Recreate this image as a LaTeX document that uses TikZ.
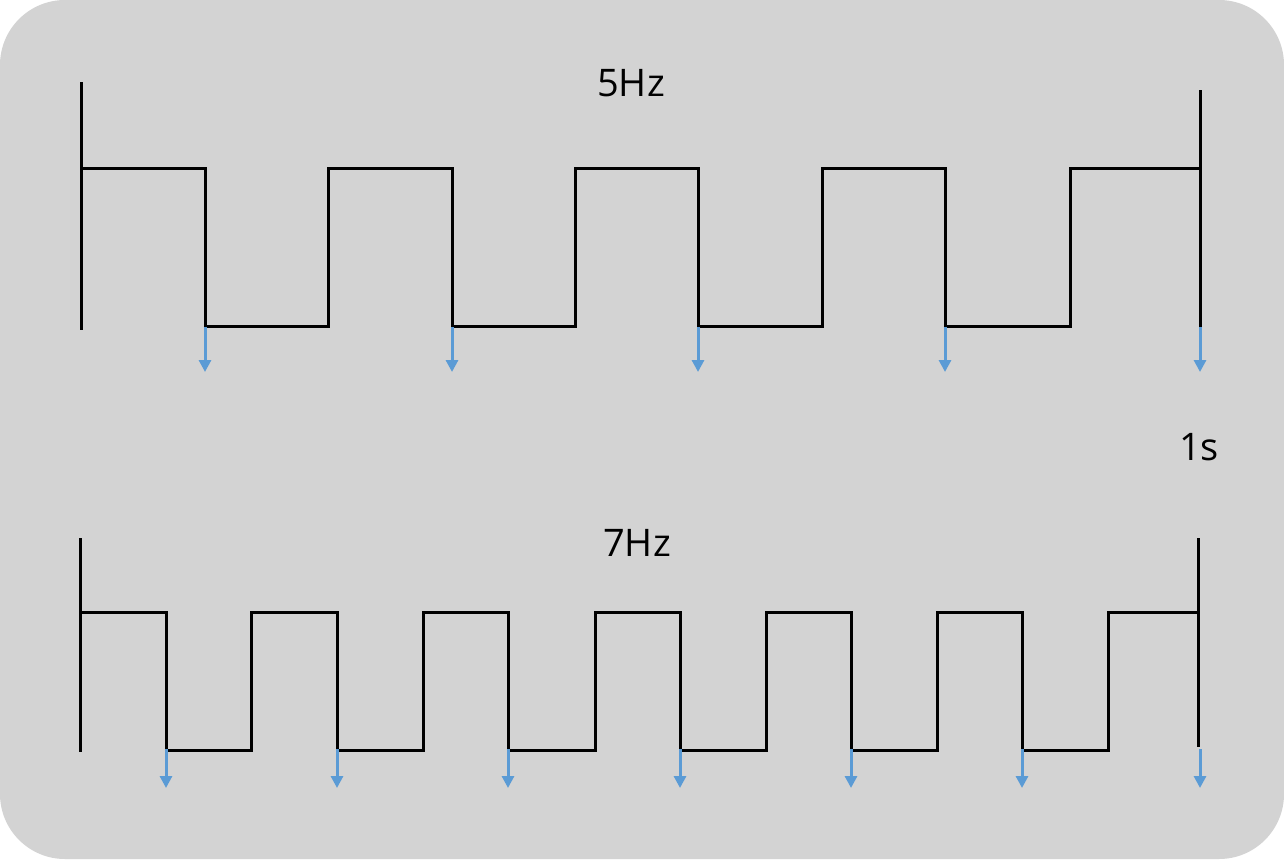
\documentclass[tikz,border=0pt]{standalone}
\usepackage{fontspec}
\setmainfont{Open Sans}
\usetikzlibrary{arrows.meta}
\definecolor{bggray}{HTML}{D3D3D3}
\definecolor{tickblue}{HTML}{5B9BD5}
\begin{document}
\begin{tikzpicture}[x=1pt,y=-1pt,
  wave/.style={line width=3pt,black,line join=miter},
  edgeline/.style={line width=3pt,black},
  tick/.style={line width=3pt,tickblue,-{Triangle[length=12pt,width=12pt]}},
  lbl/.style={font=\fontsize{38}{40}\selectfont,anchor=base,inner sep=0pt}]
\useasboundingbox (0,0) rectangle (1284,859);
\fill[bggray,rounded corners=65pt] (0,0) rectangle (1284,859);
% labels
\node[lbl] (f5) at (631,96) {5Hz};
\node[lbl] (f7) at (637,556) {7Hz};
\node[lbl] (one) at (1199,460) {1s};
% top waveform
\coordinate (tl1) at (81,82); \coordinate (tl2) at (81,330);
\coordinate (tr1) at (1200,90); \coordinate (tr2) at (1200,328);
\draw[edgeline] (tl1) -- (tl2);
\draw[edgeline] (tr1) -- (tr2);
\draw[wave] (81,168) -- (205,168) -- (205,326) -- (328,326) -- (328,168) -- (452,168)
  -- (452,326) -- (575,326) -- (575,168) -- (698,168) -- (698,326) -- (822,326)
  -- (822,168) -- (945,168) -- (945,326) -- (1070,326) -- (1070,168) -- (1200,168);
\foreach \x [count=\i] in {205,452,698,945,1200}{
  \coordinate (ta\i) at (\x,327);
  \coordinate (tb\i) at (\x,372);
  \draw[tick] (ta\i) -- (tb\i);
}
% bottom waveform
\coordinate (bl1) at (80,538); \coordinate (bl2) at (80,752);
\coordinate (br1) at (1198,538); \coordinate (br2) at (1198,747);
\draw[edgeline] (bl1) -- (bl2);
\draw[edgeline] (br1) -- (br2);
\draw[wave] (80,612) -- (166,612) -- (166,750) -- (251,750) -- (251,612) -- (337,612)
  -- (337,750) -- (423,750) -- (423,612) -- (508,612) -- (508,750) -- (595,750)
  -- (595,612) -- (680,612) -- (680,750) -- (766,750) -- (766,612) -- (851,612)
  -- (851,750) -- (937,750) -- (937,612) -- (1022,612) -- (1022,750) -- (1108,750)
  -- (1108,612) -- (1198,612);
\foreach \x [count=\i] in {166,337,508,680,851,1022,1200}{
  \coordinate (ba\i) at (\x,749);
  \coordinate (bb\i) at (\x,788);
  \draw[tick] (ba\i) -- (bb\i);
}
\end{tikzpicture}
\end{document}
